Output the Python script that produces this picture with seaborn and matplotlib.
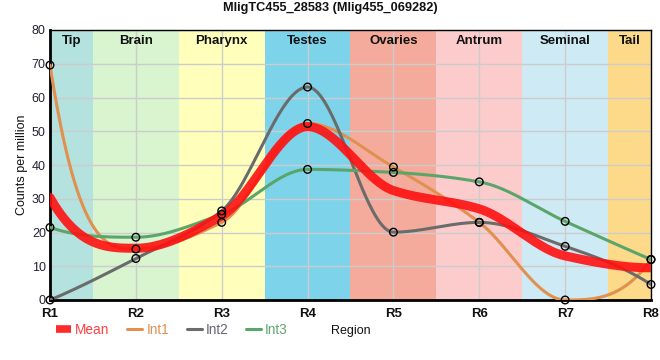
import numpy as np
import pandas as pd
import matplotlib
matplotlib.use("Agg")
import matplotlib.pyplot as plt
from matplotlib.lines import Line2D
import seaborn as sns

sns.set_theme(style="white")
plt.rcParams['font.family'] = ['Liberation Sans', 'DejaVu Sans']

title = "MligTC455_28583 (Mlig455_069282)"
regions = ["R1", "R2", "R3", "R4", "R5", "R6", "R7", "R8"]
tissues = ["Tip", "Brain", "Pharynx", "Testes", "Ovaries", "Antrum", "Seminal", "Tail"]
tissue_colors = ["#b4e2de", "#d8f5d0", "#ffffbb", "#7dd3ea",
                 "#f4ab9c", "#fccccc", "#ceeaf4", "#fcda8a"]

int1 = [69.6, 15.1, 23.0, 52.3, 39.4, 23.0, 0.0, 12.0]
int2 = [0.0, 12.3, 26.4, 63.1, 20.1, 23.0, 15.9, 4.6]
int3 = [21.5, 18.6, 25.4, 38.7, 37.8, 35.0, 23.3, 12.0]

series_colors = {"Int1": "#e0904f", "Int2": "#6b6b6b", "Int3": "#5aa56a"}
label_colors = {"Mean": "#ff4040", "Int1": "#e09050", "Int2": "#666677", "Int3": "#60a870"}


def end_slope(d, m_nb):
    m = 3 * d - 2 * m_nb
    if np.sign(m) != np.sign(d):
        return 0.0
    if abs(m) > 3 * abs(d):
        return 3 * d
    return m


def smooth(x, y, xs):
    # monotone cubic hermite, only used to draw the line between the points
    x = np.asarray(x, float)
    y = np.asarray(y, float)
    h = np.diff(x)
    d = np.diff(y) / h
    m = np.zeros_like(y)
    for k in range(1, len(y) - 1):
        if d[k - 1] * d[k] > 0:
            w1 = 2 * h[k] + h[k - 1]
            w2 = h[k] + 2 * h[k - 1]
            m[k] = (w1 + w2) / (w1 / d[k - 1] + w2 / d[k])
    m[0] = end_slope(d[0], m[1])
    m[-1] = end_slope(d[-1], m[-2])
    idx = np.clip(np.searchsorted(x, xs) - 1, 0, len(x) - 2)
    t = (xs - x[idx]) / h[idx]
    h00 = 2 * t**3 - 3 * t**2 + 1
    h10 = t**3 - 2 * t**2 + t
    h01 = -2 * t**3 + 3 * t**2
    h11 = t**3 - t**2
    return h00 * y[idx] + h10 * h[idx] * m[idx] + h01 * y[idx + 1] + h11 * h[idx] * m[idx + 1]


xpos = np.arange(len(regions))
n = len(regions) - 1
mean = (np.array(int1) + np.array(int2) + np.array(int3)) / 3
xs = np.linspace(0, n, 500)

fig = plt.figure(figsize=(6.6, 3.6), dpi=100)
ax = fig.add_axes([50 / 660, 60 / 360, 601 / 660, 270 / 360])

for i, (name, col) in enumerate(zip(tissues, tissue_colors)):
    lo, hi = max(i - 0.5, 0), min(i + 0.5, n)
    ax.axvspan(lo, hi, color=col, lw=0, zorder=0.2)
    ax.text((lo + hi) / 2, 78.6, name, ha="center", va="top", fontsize=9.5,
            fontweight="bold", color="#111111", zorder=5)

for name, vals in [("Int1", int1), ("Int2", int2), ("Int3", int3)]:
    sns.lineplot(x=xs, y=smooth(xpos, vals, xs), color=series_colors[name],
                 lw=2.2, ax=ax, zorder=3)
sns.lineplot(x=xs, y=smooth(xpos, mean, xs), color="#ff1010", alpha=0.9,
             lw=6.5, ax=ax, zorder=4)

pts = pd.DataFrame({"x": np.tile(xpos, 3), "y": int1 + int2 + int3})
sns.scatterplot(data=pts, x="x", y="y", s=30, facecolor="none",
                edgecolor="black", linewidth=1.0, ax=ax, zorder=6, clip_on=False)

ax.set_xlim(0, n)
ax.set_ylim(0, 80)
ax.set_xticks(xpos)
ax.set_xticklabels(regions, fontsize=9.5, fontweight="bold", color="#111111")
ax.set_yticks(range(0, 81, 10))
ax.set_yticklabels([str(v) for v in range(0, 81, 10)], fontsize=9, color="#222233")
ax.tick_params(axis="x", length=0, pad=5.5)
ax.tick_params(axis="y", length=0, pad=3)
ax.set_axisbelow(True)
ax.grid(True, color="#cccccc", lw=1)
for s in ["left", "bottom"]:
    ax.spines[s].set_linewidth(2)
    ax.spines[s].set_color("black")
for s in ["top", "right"]:
    ax.spines[s].set_linewidth(1)
    ax.spines[s].set_color("black")
ax.set_xlabel("")
ax.set_ylabel("Counts per million", fontsize=9, color="#111111", labelpad=3)

fig.text(0.5, 1 - 8 / 360, title, ha="center", va="center",
         fontsize=9.2, fontweight="bold", color="#111111")
fig.text(331 / 660, 1 - 331 / 360, "Region", ha="left", va="center",
         fontsize=9, color="#111111")

handles = [Line2D([], [], color="#ff2a2a", lw=5.5, solid_capstyle="butt"),
           Line2D([], [], color=series_colors["Int1"], lw=2.2),
           Line2D([], [], color=series_colors["Int2"], lw=2.2),
           Line2D([], [], color=series_colors["Int3"], lw=2.2)]
names = ["Mean", "Int1", "Int2", "Int3"]
fig.legend(handles, names, loc="center left", bbox_to_anchor=(44 / 660, 1 - 330 / 360),
           ncol=4, frameon=False, fontsize=9.8, handlelength=1.1, handletextpad=0.3,
           columnspacing=1.3, labelcolor=[label_colors[k] for k in names])

fig.savefig("out.png", dpi=100)
